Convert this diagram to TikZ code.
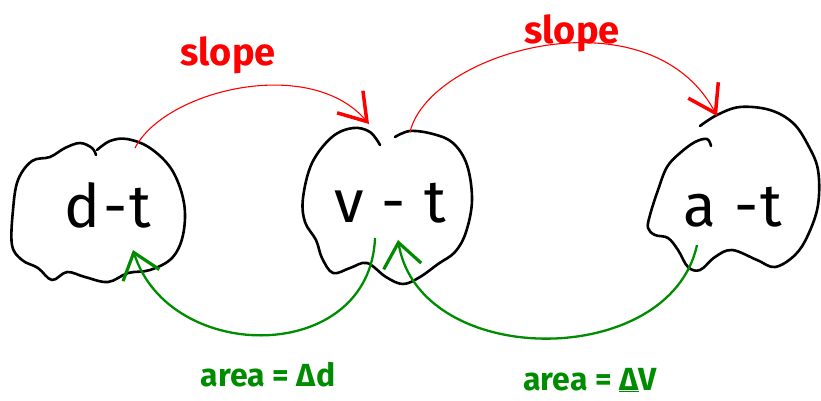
\documentclass[tikz,border=0pt]{standalone}
\usepackage{fontspec}
\setmainfont{Fira Sans}
\usetikzlibrary{arrows.meta}
\definecolor{pred}{RGB}{255,0,0}
\definecolor{pgreen}{RGB}{0,140,0}
\tikzset{
  blob/.style={draw=black, line width=2.6pt, line cap=round, line join=round},
  bigtext/.style={font=\fontsize{60}{60}\selectfont\addfontfeature{LetterSpace=4}},
  redarrow/.style={draw=pred, line width=1.1pt, -{Straight Barb[length=26pt,width=34pt,line width=3.5pt]}},
  greenarrow/.style={draw=pgreen, line width=2.3pt, -{Straight Barb[length=24pt,width=38pt,line width=3.2pt]}},
  redlabel/.style={text=pred, font=\fontsize{38}{38}\selectfont\bfseries},
  greenlabel/.style={text=pgreen, font=\fontsize{32}{32}\selectfont\bfseries},
}
\begin{document}
\begin{tikzpicture}[x=1pt,y=-1pt]
\useasboundingbox (0,0) rectangle (821,400);
% blobs
\draw[blob] plot[smooth, tension=0.6] coordinates {(97,150) (110,141) (127,139) (150,148) (172,170) (184,203) (183,235) (172,258) (150,270) (128,273) (108,282) (85,277) (67,272) (52,280) (38,268) (22,260) (12,245) (13,210) (18,180) (32,161) (50,157) (65,148) (80,143) (92,148) (96,155)};
\draw[blob] plot[smooth, tension=0.6] coordinates {(395,137) (410,131) (433,134) (453,143) (467,165) (472,200) (466,232) (455,252) (438,264) (420,277) (403,284) (386,277) (367,263) (350,268) (333,273) (322,258) (316,240) (305,222) (303,198) (312,163) (332,137) (353,128) (370,132) (380,145)};
\draw[blob] plot[smooth, tension=0.6] coordinates {(711,146) (707,139) (695,142) (680,153) (667,167) (658,190) (650,215) (648,228) (655,235) (668,238) (678,250) (688,267) (700,270) (715,257) (732,250) (757,260) (775,267) (795,255) (808,235) (818,205) (818,170) (808,145) (793,123) (770,110) (740,107) (717,115) (700,126)};
% node texts
\node[bigtext] (dt) at (108,205) {d-t};
\node[bigtext] (vt) at (390,203) {v - t};
\node[bigtext] (at) at (733,207) {a -t};
% connector ends
\coordinate (r1s) at (135,148);
\coordinate (r1e) at (369,124);
\coordinate (r2s) at (410,132);
\coordinate (r2e) at (717,116);
\coordinate (g1s) at (375,238);
\coordinate (g1e) at (133,250);
\coordinate (g2s) at (697,245);
\coordinate (g2e) at (398,240);
% red arrows
\draw[redarrow] (r1s) .. controls (165,90) and (310,55) .. (r1e);
\draw[redarrow] (r2s) .. controls (430,50) and (650,-10) .. (r2e);
% green arrows
\draw[greenarrow] (g1s) .. controls (370,365) and (170,365) .. (g1e);
\draw[greenarrow] (g2s) .. controls (670,370) and (420,370) .. (g2e);
% labels
\node[redlabel] (l1) at (228,55) {slope};
\node[redlabel] (l2) at (572,33) {slope};
\node[greenlabel] (l3) at (268,375) {area = Δd};
\node[greenlabel] (l4) at (590,380) {area = \underline{Δ}V};
\end{tikzpicture}
\end{document}
